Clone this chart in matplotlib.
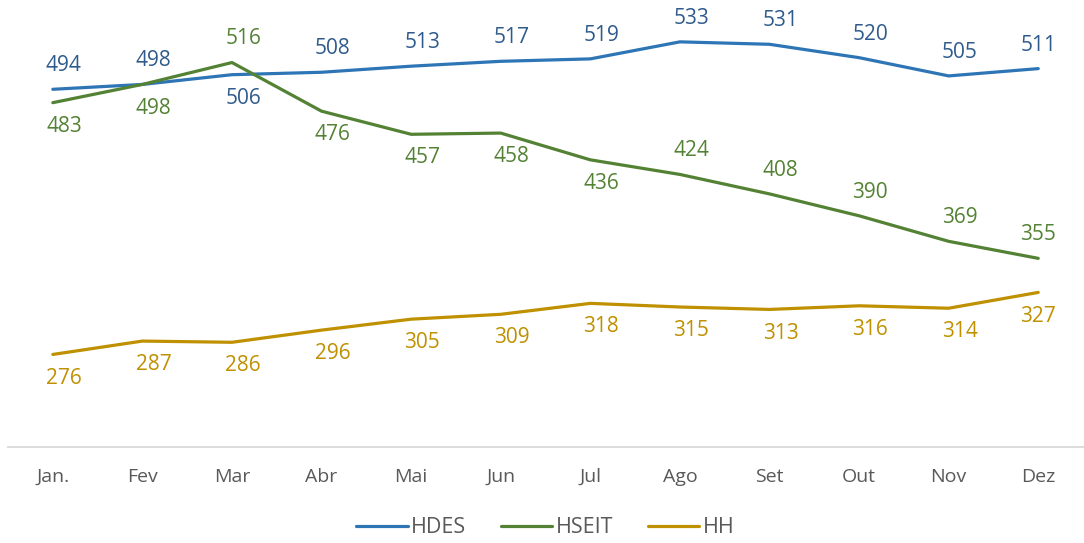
import matplotlib.pyplot as plt

months = ["Jan.", "Fev", "Mar", "Abr", "Mai", "Jun", "Jul", "Ago", "Set", "Out", "Nov", "Dez"]
hdes = [494, 498, 506, 508, 513, 517, 519, 533, 531, 520, 505, 511]
hseit = [483, 498, 516, 476, 457, 458, 436, 424, 408, 390, 369, 355]
hh = [276, 287, 286, 296, 305, 309, 318, 315, 313, 316, 314, 327]

# label above (+1) or below (-1) the point
hdes_pos = [1, 1, -1, 1, 1, 1, 1, 1, 1, 1, 1, 1]
hseit_pos = [-1, -1, 1, -1, -1, -1, -1, 1, 1, 1, 1, 1]
hh_pos = [-1] * 12

plt.rcParams['font.family'] = ['Open Sans', 'DejaVu Sans']

fig = plt.figure(figsize=(10.84, 5.43), dpi=100)
ax = fig.add_axes([0.0074, 0.177, 0.9917, 0.784])

x = list(range(len(months)))
series = [
    ("HDES", hdes, hdes_pos, "#2E75B6", "#2F5B8C"),
    ("HSEIT", hseit, hseit_pos, "#548235", "#548235"),
    ("HH", hh, hh_pos, "#BF9000", "#BF9000"),
]

for name, vals, pos, col, lcol in series:
    ax.plot(x, vals, color=col, lw=2.3, label=name, solid_capstyle="round")
    for xi, v, p in zip(x, vals, pos):
        dx = 0 if xi == len(months) - 1 else 8
        ax.annotate(str(v), (xi, v), xytext=(dx, 17 * p), textcoords="offset points",
                    ha="center", va="center", fontsize=15, color=lcol)

ax.set_xlim(-0.5, len(months) - 0.5)
ax.set_ylim(200, 550)
ax.set_xticks(x)
ax.set_xticklabels(months, fontsize=14, color="#595959")
ax.set_yticks([])
ax.tick_params(axis="x", length=0, pad=15)
for s in ["top", "right", "left"]:
    ax.spines[s].set_visible(False)
ax.spines["bottom"].set_color("#D9D9D9")
ax.spines["bottom"].set_linewidth(1.3)

leg = fig.legend(loc="center", bbox_to_anchor=(0.503, 0.028), ncol=3, frameon=False,
                 fontsize=15.5, handlelength=2.4, handletextpad=0.15, columnspacing=1.6)
for t in leg.get_texts():
    t.set_color("#595959")

fig.savefig("out.png", dpi=100)
